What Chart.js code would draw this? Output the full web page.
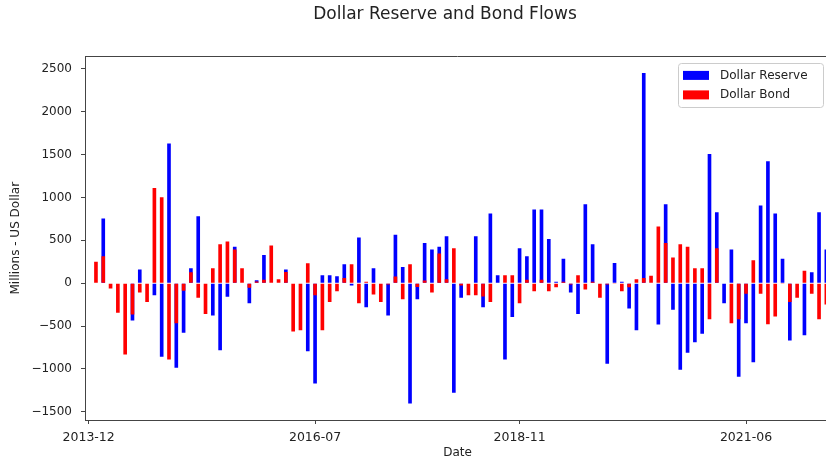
<!DOCTYPE html>
<html>
<head>
<meta charset="utf-8">
<script src="https://cdn.jsdelivr.net/npm/chart.js@4.4.1/dist/chart.umd.min.js"></script>
<style>
  html, body { margin: 0; padding: 0; background: #fff; overflow: hidden; }
  #wrap { width: 826px; height: 460px; overflow: hidden; position: relative; }
  canvas { display: block; }
</style>
</head>
<body>
<div id="wrap"><canvas id="chart" width="890" height="460"></canvas></div>
<script>
// Monthly flows, millions of US dollars, starting 2013-12
const startYear = 2013;
const startMonth = 12;
const reserve = [
  null, 0, 754, 0, 0, 0, -435, 159, 0, -140,
  -859, 1629, -987, -579, 175, 781, 0, -377, -781, -159,
  424, 0, -233, 35, 330, 0, 0, 159, 0, 0,
  -793, -1170, 93, 93, 82, 222, -27, 533, -280, 175,
  0, -377, 564, 190, -1403, -187, 470, 393, 424, 548,
  -1279, -171, 0, 548, -280, 812, 93, -890, -393, 408,
  315, 859, 859, 517, 16, 284, -109, -358, 921, 455,
  0, -940, 237, 16, -295, -548, 2453, 0, -482, 921,
  -311, -1011, -812, -688, -591, 1508, 828, -233, 393, -1092,
  -466, -921, 906, 1423, 812, 284, -669, 0, -606, 128,
  828, 393
];
const bond = [
  null, 249, 315, -62, -346, -832, -365, -109, -218, 1112,
  1003, -890, -466, -89, 128, -171, -358, 175, 455, 486,
  393, 175, -54, 20, 39, 439, 47, 132, -564, -548,
  233, -140, -548, -218, -93, 62, 222, -233, 16, -132,
  -218, -16, 78, -187, 222, -43, 31, -109, 346, 47,
  408, -27, -140, -140, -155, -218, 0, 93, 93, -233,
  39, -93, 39, -93, -47, 16, -16, 93, -74, 16,
  -171, -16, -10, -93, -47, 47, 62, 86, 661, 470,
  299, 455, 424, 175, 175, -420, 408, 0, -466, -420,
  -124, 268, -124, -478, -389, -10, -218, -171, 144, -124,
  -420, -249
];
// Labelled ticks on the date axis
const tickLabels = ['2013-12', '2016-07', '2018-11', '2021-06'];
const yTicks = [-1500, -1000, -500, 0, 500, 1000, 1500, 2000, 2500];

// Month labels for each bar
const months = reserve.map((_, i) => {
  const m0 = (startMonth - 1) + i;
  const y = startYear + Math.floor(m0 / 12);
  const m = (m0 % 12) + 1;
  return y + '-' + String(m).padStart(2, '0');
});

const FONT = 'DejaVu Sans';
const TEXT = '#222';
const AXIS = '#444';

// Top and right spines of the plot frame
const framePlugin = {
  id: 'frame',
  afterDraw(chart) {
    const { ctx, chartArea: a } = chart;
    ctx.save();
    ctx.strokeStyle = AXIS;
    ctx.lineWidth = 1;
    ctx.beginPath();
    ctx.moveTo(a.left, Math.round(a.top) + 0.5);
    ctx.lineTo(a.right, Math.round(a.top) + 0.5);
    ctx.lineTo(a.right, a.bottom);
    ctx.stroke();
    ctx.restore();
  }
};

// Boxed legend in the upper-right corner of the plot
const boxLegend = {
  id: 'boxLegend',
  afterDraw(chart) {
    const { ctx, chartArea: a } = chart;
    const ds = chart.data.datasets;
    const w = 145, rowH = 19.5, h = 44;
    const x = a.right - 7 - w;
    const y = a.top + 7;
    ctx.save();
    ctx.fillStyle = 'rgba(255,255,255,0.8)';
    ctx.strokeStyle = '#cccccc';
    ctx.lineWidth = 1;
    ctx.beginPath();
    ctx.roundRect(Math.round(x) + 0.5, Math.round(y) + 0.5, w, h, 3);
    ctx.fill();
    ctx.stroke();
    ctx.font = '12px "' + FONT + '"';
    ctx.textBaseline = 'middle';
    ds.forEach((d, i) => {
      const cy = y + 12 + i * rowH;
      ctx.fillStyle = d.backgroundColor;
      ctx.fillRect(x + 5, cy - 4.5, 26, 9);
      ctx.fillStyle = TEXT;
      ctx.fillText(d.label, x + 42, cy);
    });
    ctx.restore();
  }
};

new Chart(document.getElementById('chart'), {
  type: 'bar',
  data: {
    labels: months,
    datasets: [
      { label: 'Dollar Reserve', data: reserve, backgroundColor: '#0000ff', order: 2,
        grouped: false, barPercentage: 0.5, categoryPercentage: 1.0 },
      { label: 'Dollar Bond', data: bond, backgroundColor: '#ff0000', order: 1,
        grouped: false, barPercentage: 0.5, categoryPercentage: 1.0 }
    ]
  },
  options: {
    responsive: false,
    animation: false,
    devicePixelRatio: 1,
    layout: { padding: 0 },
    plugins: {
      legend: { display: false },
      tooltip: { enabled: false },
      title: {
        display: true,
        text: 'Dollar Reserve and Bond Flows',
        color: TEXT,
        font: { family: FONT, size: 17, weight: 'normal' },
        padding: { top: 4, bottom: 32 }
      }
    },
    scales: {
      x: {
        type: 'category',
        offset: true,
        grid: { display: true, offset: false, drawOnChartArea: false, drawTicks: true, tickLength: 4, color: AXIS },
        border: { display: true, color: AXIS, width: 1 },
        ticks: {
          autoSkip: false, maxRotation: 0, minRotation: 0, padding: 6,
          color: TEXT, font: { family: FONT, size: 12.5 },
          callback: function (v) { return this.getLabelForValue(v); }
        },
        afterBuildTicks: (s) => {
          s.ticks = s.ticks.filter(t => tickLabels.includes(months[t.value]));
        },
        afterFit: (s) => { s.height = 40; },
        title: {
          display: true, text: 'Date', color: TEXT,
          font: { family: FONT, size: 12 }, padding: { top: 0, bottom: 0 }
        }
      },
      y: {
        min: -1596,
        max: 2646,
        grid: { display: true, drawOnChartArea: false, drawTicks: true, tickLength: 4, color: AXIS },
        border: { display: true, color: AXIS, width: 1 },
        afterBuildTicks: (s) => { s.ticks = yTicks.map(v => ({ value: v })); },
        ticks: {
          padding: 9, color: TEXT, font: { family: FONT, size: 12 },
          callback: (v) => (v < 0 ? '\u2212' + Math.abs(v) : String(v))
        },
        afterFit: (s) => { s.width = 85; },
        title: {
          display: true, text: 'Millions - US Dollar', color: TEXT,
          font: { family: FONT, size: 12 }, padding: { top: 9, bottom: 0 }
        }
      },
      y2: {
        position: 'right',
        display: true,
        grid: { display: false },
        border: { display: false },
        ticks: { display: false },
        afterFit: (s) => { s.width = 60; }
      }
    }
  },
  plugins: [framePlugin, boxLegend]
});
</script>
</body>
</html>
